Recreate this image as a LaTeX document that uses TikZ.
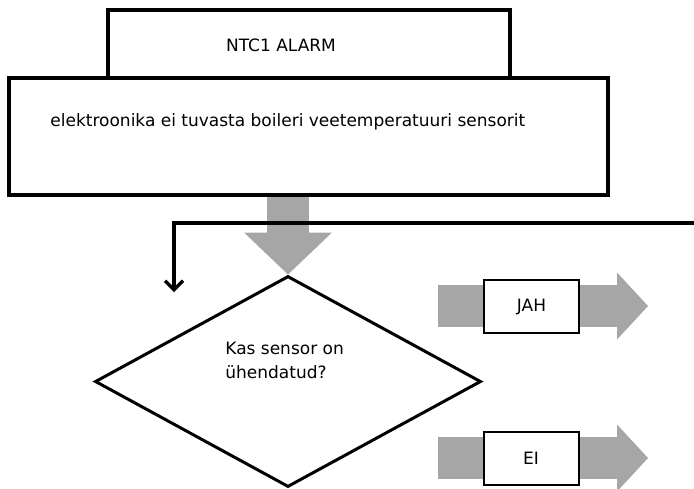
\documentclass[tikz,border=0pt]{standalone}
\usepackage{fontspec}
\setmainfont{DejaVu Sans}
\usetikzlibrary{arrows.meta,shapes.geometric,backgrounds}
\definecolor{arrowgray}{RGB}{166,166,166}
\tikzset{box/.style={rectangle,draw=black,line width=1.6pt,fill=white,inner sep=0pt},
		answer/.style={rectangle,draw=black,line width=1pt,fill=white,minimum width=47.5pt,minimum height=26.5pt},
		flow/.style={-{Straight Barb[length=4.5pt,width=9pt]},line width=1.6pt},
		blockarrow/.style={arrowgray,line width=21pt,-{Triangle[length=15.5pt,width=33.5pt,line width=0pt]}}}

\begin{document}
\begin{tikzpicture}[x=0.5pt,y=-0.5pt,font=\fontsize{8.5}{12}\selectfont,
		decision/.style={diamond,draw=black,line width=1.5pt,fill=white,minimum width=193pt,minimum height=105.5pt,inner sep=0pt}]
		\useasboundingbox (0,0) rectangle (694,488);
		\node[box,minimum width=201pt,minimum height=34pt] (alarm) at (309,44) {};
		\node (alarm-text) at (281,45) {NTC1 ALARM};
		\node[box,minimum width=299.5pt,minimum height=58.5pt] (fault) at (308.5,136.5) {};
		\node[anchor=west,inner sep=0pt] (fault-text) at (50,122) {elektroonika ei tuvasta boileri veetemperatuuri sensorit};
		
		\node[decision] (connected) at (288,381.5) {};
		\node[anchor=west,align=left,inner sep=0pt] (connected-text) at (225,360) {Kas sensor on\\ühendatud?};
		\draw[blockarrow,-{Triangle[length=21pt,width=44pt,line width=0pt]}] (fault.south -| connected.north) -- (connected.north);
		
		% tagasiside joon
		\coordinate (loop-start) at (694,223);
		\coordinate (loop-end) at (174,292);
		\draw[flow] (loop-start) -| (loop-end);
		
		\node[answer] (yes) at (531.5,306.5) {JAH};
		\node[answer] (no) at (531,458) {EI};
		\coordinate (yes-tail) at (438,306);
		\coordinate (yes-tip) at (648,306);
		\coordinate (no-tail) at (438,458);
		\coordinate (no-tip) at (648,458);
		\begin{scope}[on background layer]
			\draw[blockarrow] (yes-tail) -- (yes-tip);
			\draw[blockarrow] (no-tail) -- (no-tip);
		\end{scope}
	\end{tikzpicture}
\end{document}
